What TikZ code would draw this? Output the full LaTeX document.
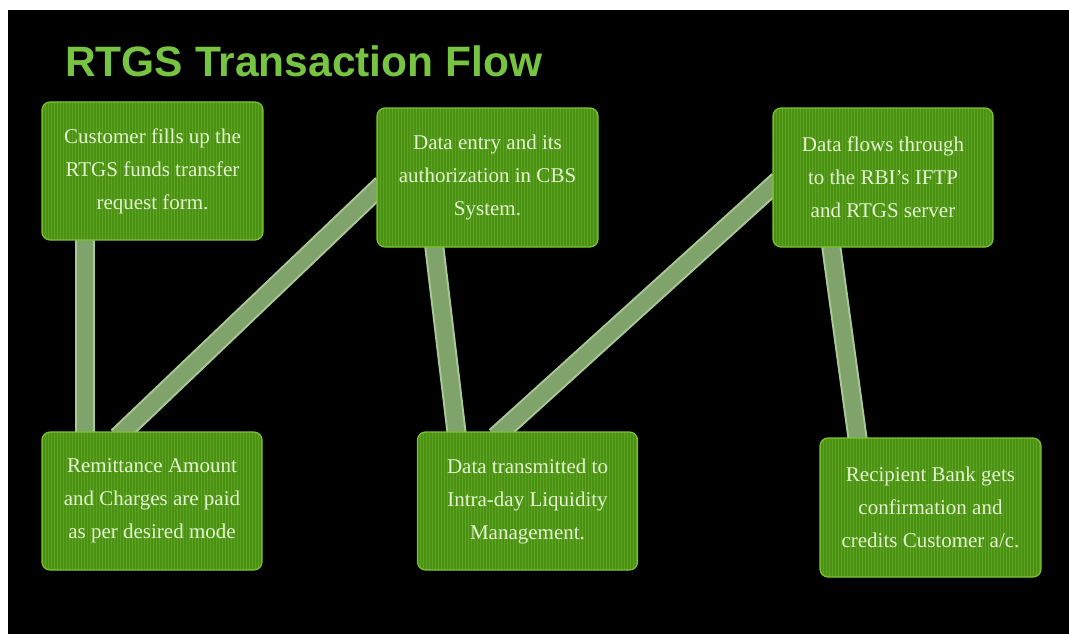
\documentclass[tikz,border=0pt]{standalone}
\usepackage{fontspec}
\setmainfont{Liberation Serif}
\newfontfamily\titlefont{Liberation Sans}
\usetikzlibrary{calc}
\definecolor{boxfill}{RGB}{74,145,20}
\definecolor{boxstripe}{RGB}{92,163,34}
\definecolor{boxedge}{RGB}{125,195,55}
\definecolor{boxtext}{RGB}{228,242,208}
\definecolor{titlegreen}{RGB}{118,196,66}
\definecolor{barouter}{RGB}{170,200,150}
\definecolor{barinner}{RGB}{128,163,108}
\pgfdeclarelayer{bg}
\pgfsetlayers{bg,main}
\tikzset{
  stepbox/.style={draw=boxedge, line width=1.2pt, fill=boxfill, rounded corners=8pt,
    minimum width=221pt, minimum height=139pt, inner sep=0pt, align=center,
    text=boxtext, font=\fontsize{21}{33}\selectfont,
    path picture={\foreach \i in {0,3,...,225}
      \draw[boxstripe, line width=0.9pt] ([xshift=\i pt]path picture bounding box.south west) -- ([xshift=\i pt]path picture bounding box.north west);}},
  barout/.style={barouter, line width=20pt},
  barin/.style={barinner, line width=16pt},
}
\newcommand{\stripbar}[2]{%
  \draw[barout] ($(#1)!-8pt!(#2)$) -- ($(#2)!-8pt!(#1)$);
  \draw[barin] ($(#1)!-8pt!(#2)$) -- ($(#2)!-8pt!(#1)$);}
\begin{document}
\begin{tikzpicture}[x=1pt,y=-1pt]
\useasboundingbox (0,0) rectangle (1069,634);
\begin{pgfonlayer}{bg}
\fill[white] (0,0) rectangle (1069,634);
\fill[black] (8,10) rectangle (1069,634);
\end{pgfonlayer}
\node[anchor=base west, text=titlegreen, font=\titlefont\bfseries\fontsize{42.5}{44}\selectfont, inner sep=0pt] (title) at (65,77) {RTGS Transaction Flow};
\node[stepbox, minimum height=138pt] (b1) at (152.5,171) {Customer fills up the\\RTGS funds transfer\\request form.};
\node[stepbox] (b2) at (487.5,177.5) {Data entry and its\\authorization in CBS\\System.};
\node[stepbox, minimum width=220pt] (b3) at (883,177.5) {Data flows through\\to the RBI's IFTP\\and RTGS server};
\node[stepbox, minimum width=220pt, minimum height=138pt] (b4) at (152,501) {Remittance Amount\\and Charges are paid\\as per desired mode};
\node[stepbox, minimum width=220pt, minimum height=138pt] (b5) at (527.5,501) {Data transmitted to\\Intra-day Liquidity\\Management.};
\node[stepbox] (b6) at (930.5,507.5) {Recipient Bank gets\\confirmation and\\credits Customer a/c.};
\coordinate (a1) at ([xshift=44pt]b1.south west);
\coordinate (c1) at ([xshift=44pt]b4.north west);
\coordinate (a2) at ([xshift=82pt]b4.north west);
\coordinate (c2) at ([yshift=-12.5pt]b2.west);
\coordinate (a3) at ([xshift=58pt]b2.south west);
\coordinate (c3) at ([xshift=39.5pt]b5.north west);
\coordinate (a4) at ([xshift=84.5pt]b5.north west);
\coordinate (c4) at ([yshift=-8.5pt]b3.west);
\coordinate (a5) at ([xshift=59pt]b3.south west);
\coordinate (c5) at ([xshift=38pt]b6.north west);
\begin{pgfonlayer}{bg}
\stripbar{a1}{c1}
\stripbar{a2}{c2}
\stripbar{a3}{c3}
\stripbar{a4}{c4}
\stripbar{a5}{c5}
\end{pgfonlayer}
\end{tikzpicture}
\end{document}
